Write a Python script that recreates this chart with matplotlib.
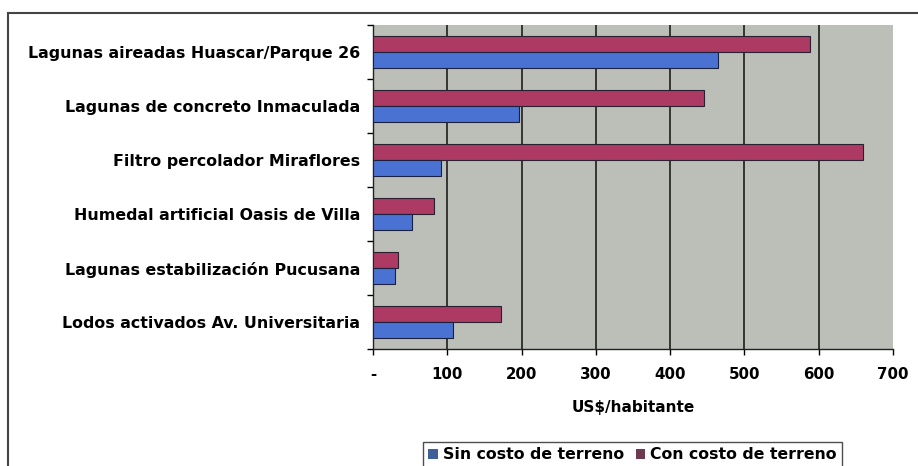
import matplotlib
matplotlib.use("Agg")
import matplotlib.pyplot as plt
from matplotlib.patches import Patch
from matplotlib.lines import Line2D
import numpy as np

categories = [
    "Lagunas aireadas Huascar/Parque 26",
    "Lagunas de concreto Inmaculada",
    "Filtro percolador Miraflores",
    "Humedal artificial Oasis de Villa",
    "Lagunas estabilización Pucusana",
    "Lodos activados Av. Universitaria",
]
sin_costo = [464, 197, 92, 53, 29, 108]
con_costo = [588, 446, 660, 82, 33, 172]
xticks = [0, 100, 200, 300, 400, 500, 600, 700]
xtick_labels = ["-", "100", "200", "300", "400", "500", "600", "700"]
series_names = ["Sin costo de terreno", "Con costo de terreno"]

plt.rcParams['font.family'] = ['DejaVu Sans']
plt.rcParams['font.weight'] = 'bold'

fig = plt.figure(figsize=(9.18, 4.66), dpi=100)
ax = fig.add_axes([373/918, 1 - 349/466, (893-373)/918, (349-25)/466])
ax.set_facecolor('#bcbfb8')

n = len(categories)
pos = np.arange(n)[::-1].astype(float)
h = 0.3
blue = '#4a72d2'
red = '#ad3a62'
ax.barh(pos + h/2, con_costo, height=h, color=red, edgecolor='#2a2030', linewidth=0.8, zorder=3)
ax.barh(pos - h/2, sin_costo, height=h, color=blue, edgecolor='#1a2040', linewidth=0.8, zorder=3)

ax.set_xlim(0, 700)
ax.set_ylim(-0.5, n - 0.5)
for t in xticks[1:-1]:
    ax.axvline(t, color='#1e1e1e', linewidth=1.2, zorder=1)

ax.set_xticks(xticks)
ax.set_xticklabels(xtick_labels, fontsize=10.8, fontweight='bold')
ax.set_yticks(np.arange(-0.5, n, 1.0))
ax.set_yticklabels([])
ax.set_yticks(pos, minor=True)
ax.set_yticklabels(categories, minor=True, fontsize=11.4, fontweight='bold')
ax.tick_params(axis='y', which='minor', length=0, pad=9)
ax.tick_params(axis='y', which='major', length=4, direction='out', width=1)
ax.tick_params(axis='x', length=4, direction='out', width=1, pad=9)
for s in ['top', 'right']:
    ax.spines[s].set_visible(False)
for s in ['left', 'bottom']:
    ax.spines[s].set_color('#222222')
    ax.spines[s].set_linewidth(1.0)

ax.set_xlabel("US$/habitante", fontsize=11, fontweight='bold', labelpad=13)

handles = [Patch(facecolor='#3f5f98', edgecolor='none'),
           Patch(facecolor='#6e3a52', edgecolor='none')]
leg = fig.legend(handles, series_names, loc='upper left',
                 bbox_to_anchor=(423/918, 1 - 442/466),
                 ncol=2, fontsize=11.3, frameon=True, fancybox=False,
                 handlelength=0.6, handleheight=0.7, handletextpad=0.35,
                 columnspacing=0.7, borderpad=0.35, borderaxespad=0)
leg.get_frame().set_edgecolor('#222222')
leg.get_frame().set_linewidth(1.0)
for t in leg.get_texts():
    t.set_fontweight('bold')

# outer frame (left & top lines)
fig.add_artist(Line2D([8/918, 8/918], [0, 1 - 13/466], transform=fig.transFigure,
                      color='#444444', linewidth=1.5))
fig.add_artist(Line2D([8/918, 1], [1 - 13/466, 1 - 13/466], transform=fig.transFigure,
                      color='#444444', linewidth=1.5))

fig.savefig('out.png', dpi=100)
